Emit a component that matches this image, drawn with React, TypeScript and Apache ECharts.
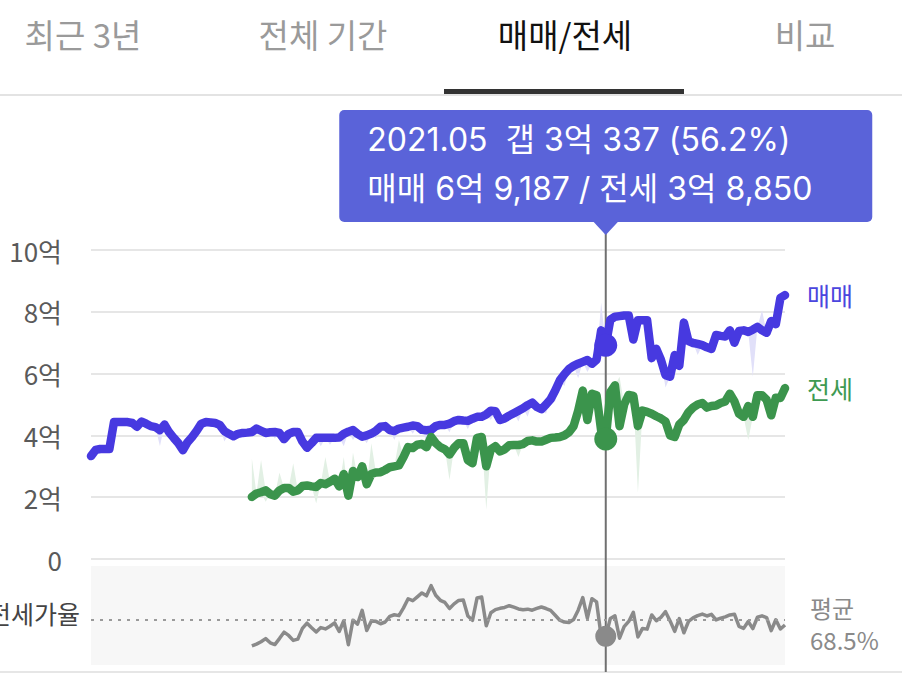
import React, { useEffect, useRef } from "react";
import * as echarts from "echarts";

// ---- categories: monthly, 2012.01 .. 2024.08 ----
const START_YEAR = 2012;
const MONTH_COUNT = 152;
const months: string[] = Array.from({ length: MONTH_COUNT }, (_, i) => {
  return `${START_YEAR + Math.floor(i / 12)}.${String((i % 12) + 1).padStart(2, "0")}`;
});
const FOCUS = "2021.05";

// ---- 매매 (sale) price, 만원 ----
const sale = [
  33300, 35300, 35600, 35600, 35600, 44300, 44300, 44300, 44300, 44000,
  42800, 44500, 43800, 43000, 42700, 41700, 43500, 41000, 39200, 37500,
  35200, 37800, 39500, 41500, 43800, 44300, 44200, 44000, 43400, 41400,
  40500, 39700, 40500, 40800, 40900, 41100, 42200, 41500, 40800, 41000,
  41100, 40800, 38800, 40500, 41100, 41100, 38000, 36000, 37500, 39200,
  39200, 39200, 39200, 39200, 39300, 40500, 41200, 41700, 40500, 39600,
  40000, 40600, 41500, 42800, 43000, 41700, 41400, 42200, 42500, 42800,
  43200, 43000, 41800, 41700, 41800, 43000, 43400, 43400, 43800, 44600,
  45000, 44800, 44700, 45400, 46000, 46000, 46800, 48000, 47800, 45000,
  45500, 46400, 47200, 48000, 48800, 49800, 50600, 49200, 48500, 50000,
  51700, 54500, 57800, 59800, 61500, 62500, 63200, 63800, 64400, 63200,
  64500, 74000, 69187, 77500, 78400, 78600, 78800, 78800, 71000, 77300,
  77300, 77300, 65000, 68000, 64500, 59500, 59000, 66000, 62500, 76500,
  70500, 69900, 69600, 69200, 68500, 68000, 72500, 72200, 72000, 74000,
  70000, 73800, 74000, 73500, 74200, 75100, 74000, 73200, 77000, 76000,
  84500, 85400,
];

// ---- 전세 (jeonse) price, 만원, starts at 2014.12 ----
const JEONSE_START = "2014.12";
const jeonseValues = [
  20100, 21200, 21600, 22200, 21000, 20500, 22200, 23000, 23000, 21800,
  22200, 23600, 23800, 23500, 23300, 24600, 24200, 25000, 26000, 23500,
  27500, 20500, 28500, 26500, 30000, 24200, 27500, 28000, 28100, 28800,
  29700, 30000, 30300, 33000, 36200, 35900, 37000, 37200, 36200, 39500,
  37500, 36200, 35500, 33800, 36000, 37500, 37500, 32000, 31000, 39200,
  39500, 30000, 35500, 36500, 34800, 35500, 36800, 36900, 36900, 37200,
  38200, 38400, 38000, 38000, 38600, 39200, 39300, 39500, 40000, 41000,
  43000, 48000, 54500, 45000, 53500, 53000, 41500, 38850, 54000, 56200,
  43000, 50000, 53100, 52800, 43000, 48000, 47600, 47000, 46200, 45500,
  44500, 40000, 39500, 43500, 45000, 47500, 49000, 50000, 50500, 49000,
  49500, 49700, 50500, 51000, 53500, 51000, 47000, 46000, 49500, 46000,
  53000, 53000, 51500, 46500, 52200, 52100, 55300,
];

// ---- individual raw trades that stray from the line: [month index, 만원] ----
const saleOutliers: [number, number][] = [
  [15, 36500], [20, 34000], [29, 38000], [40, 39000], [42, 37000], [47, 34500],
  [50, 36500], [52, 37000], [55, 36500], [57, 38500], [60, 37500], [62, 39000],
  [66, 38500], [70, 40500], [73, 38000], [78, 41000], [82, 42000], [87, 45000],
  [93, 44500], [95, 46000], [99, 47000], [101, 51000], [103, 56000], [106, 58500],
  [108, 60500], [111, 83000], [125, 55500], [132, 66000], [136, 68500], [144, 59000],
  [146, 80500],
];
const jeonseOutliers: [number, number][] = [
  [35, 32500], [37, 32000], [38, 18500], [41, 28000], [44, 31000], [49, 18000],
  [51, 33000], [55, 33000], [57, 34500], [61, 37500], [67, 38500], [78, 25600],
  [86, 15900], [93, 33000], [115, 59000], [119, 21400], [143, 38500],
];

const AVG_RATIO = 68.5;
const Y_TICKS = [0, 20000, 40000, 60000, 80000, 100000];

const FONT = "'Noto Sans CJK KR', 'Noto Sans', sans-serif";
const NUM_FONT = "Inter, 'Noto Sans CJK KR', sans-serif";
const BLUE = "#4739e0";
const GREEN = "#3b944c";
const GRAY = "#8a8a8a";

function commas(n: number): string {
  return String(n).replace(/\B(?=(\d{3})+(?!\d))/g, ",");
}
function fmtKr(v: number): string {
  const eok = Math.floor(v / 10000);
  const rest = v % 10000;
  return rest ? `${eok}억 ${commas(rest)}` : `${eok}억`;
}

export default function App() {
  const ref = useRef<HTMLDivElement>(null);

  useEffect(() => {
    if (!ref.current) return;
    const chart = echarts.init(ref.current, undefined, { renderer: "svg" });

    const js = months.indexOf(JEONSE_START);
    const jeonse: (number | null)[] = months.map((_, i) =>
      i >= js && i - js < jeonseValues.length ? jeonseValues[i - js] : null
    );
    const ratio = months.map((_, i) =>
      jeonse[i] == null ? null : +(((jeonse[i] as number) / sale[i]) * 100).toFixed(2)
    );
    const fi = months.indexOf(FOCUS);

    const band = (line: (number | null)[], outs: [number, number][]) => {
      const raw = line.slice();
      outs.forEach(([i, v]) => (raw[i] = v));
      const low = line.map((v, i) => (v == null ? "-" : Math.min(v, raw[i] as number)));
      const diff = line.map((v, i) => (v == null ? "-" : Math.abs((raw[i] as number) - v)));
      return { low, diff };
    };
    const sb = band(sale, saleOutliers);
    const jb = band(jeonse, jeonseOutliers);

    const bandSeries = (name: string, b: any, color: string) => [
      {
        type: "line", name: name + "low", stack: name, data: b.low, symbol: "none",
        lineStyle: { width: 0, opacity: 0 }, silent: true, z: 1,
      },
      {
        type: "line", name: name + "diff", stack: name, data: b.diff, symbol: "none",
        lineStyle: { width: 0, opacity: 0 }, areaStyle: { color, opacity: 1 }, silent: true, z: 1,
      },
    ];

    const only = (arr: (number | null)[]) => arr.map((v, i) => (i === fi ? v : "-"));

    chart.setOption({
      animation: false,
      backgroundColor: "#ffffff",
      grid: [
        { left: 91, width: 694, top: 250, height: 309 },
        { left: 91, width: 694, top: 566, height: 99, show: true, backgroundColor: "#f7f7f7", borderWidth: 0 },
      ],
      xAxis: [
        { type: "category", data: months, boundaryGap: false, gridIndex: 0, show: false },
        { type: "category", data: months, boundaryGap: false, gridIndex: 1, show: false },
      ],
      yAxis: [
        {
          type: "value", gridIndex: 0, min: Y_TICKS[0], max: Y_TICKS[Y_TICKS.length - 1],
          interval: Y_TICKS[1] - Y_TICKS[0],
          axisLine: { show: false }, axisTick: { show: false },
          axisLabel: {
            formatter: (v: number) => (v === 0 ? "0" : `${v / 10000}억`),
            color: "#5a5a5a", fontSize: 26, margin: 29, fontFamily: FONT,
          },
          splitLine: { lineStyle: { color: "#e6e6e6", width: 2 } },
        },
        { type: "value", gridIndex: 1, min: 34.4, max: 109.4, show: false },
      ],
      series: [
        ...bandSeries("sb", sb, "#e1e0f9"),
        ...bandSeries("jb", jb, "#e2f0e4"),
        {
          type: "line", name: "매매", data: sale, symbol: "none", z: 3,
          lineStyle: { color: BLUE, width: 8.5, cap: "round", join: "round" },
          endLabel: { show: true, formatter: "매매", color: "#4b46de", fontSize: 25, distance: 22, fontFamily: FONT },
        },
        {
          type: "line", name: "전세", data: jeonse, symbol: "none", z: 4,
          lineStyle: { color: GREEN, width: 8.5, cap: "round", join: "round" },
          endLabel: { show: true, formatter: "전세", color: "#3e9a52", fontSize: 25, distance: 22, fontFamily: FONT },
        },
        {
          type: "scatter", data: only(sale), symbolSize: 23, itemStyle: { color: BLUE, opacity: 1 }, z: 5,
        },
        {
          type: "scatter", data: only(jeonse), symbolSize: 23, itemStyle: { color: GREEN, opacity: 1 }, z: 5,
        },
        {
          type: "line", name: "전세가율", data: ratio, xAxisIndex: 1, yAxisIndex: 1, symbol: "none", z: 3,
          lineStyle: { color: GRAY, width: 3.5, join: "round" },
          markLine: {
            silent: true, symbol: "none",
            data: [{ yAxis: AVG_RATIO }],
            lineStyle: { type: [3, 6], color: "#9a9a9a", width: 2 },
            label: { show: false },
          },
        },
        {
          type: "scatter", data: only(ratio), xAxisIndex: 1, yAxisIndex: 1, symbolSize: 21,
          itemStyle: { color: GRAY, opacity: 1 }, z: 5,
        },
      ],
    });

    const px = chart.convertToPixel({ xAxisIndex: 0 }, months[fi]) as number;
    const avgY = chart.convertToPixel({ yAxisIndex: 1 }, AVG_RATIO) as number;
    const s = sale[fi];
    const j = jeonse[fi] as number;
    const line1 = `${FOCUS}  갭 ${fmtKr(s - j)} (${((j / s) * 100).toFixed(1)}%)`;
    const line2 = `매매 ${fmtKr(s)} / 전세 ${fmtKr(j)}`;
    const TIP = "#5a63d9";
    const boxW = 533;

    const tab = (text: string, x: number, active: boolean) => ({
      type: "text", x, y: 34,
      style: {
        text, fill: active ? "#111" : "#9a9a9a", fontSize: 33, fontFamily: FONT,
        align: "center", verticalAlign: "middle",
      },
    });

    chart.setOption({
      graphic: [
        tab("최근 3년", 83, false),
        tab("전체 기간", 323, false),
        tab("매매/전세", 565, true),
        tab("비교", 805, false),
        { type: "rect", shape: { x: 0, y: 94, width: 902, height: 2 }, style: { fill: "#e3e3e3" } },
        { type: "rect", shape: { x: 444, y: 89, width: 240, height: 5 }, style: { fill: "#333" } },
        { type: "rect", shape: { x: 0, y: 671, width: 902, height: 2 }, style: { fill: "#e6e6e6" } },
        {
          type: "line", z: 1, shape: { x1: px, y1: 222, x2: px, y2: 672 },
          style: { stroke: "#707070", lineWidth: 2 },
        },
        {
          type: "rect", z: 10, shape: { x: px - boxW / 2, y: 110, width: boxW, height: 112, r: 5 },
          style: { fill: TIP },
        },
        {
          type: "polygon", z: 10, shape: { points: [[px - 13, 221], [px + 13, 221], [px, 235]] },
          style: { fill: TIP },
        },
        {
          type: "text", z: 11, x: px - boxW / 2 + 28, y: 139,
          style: { text: line1, fill: "#fff", fontSize: 32, fontFamily: NUM_FONT, verticalAlign: "middle" },
        },
        {
          type: "text", z: 11, x: px - boxW / 2 + 28, y: 188,
          style: { text: line2, fill: "#fff", fontSize: 32, fontFamily: NUM_FONT, verticalAlign: "middle" },
        },
        {
          type: "text", x: 80, y: avgY - 7,
          style: { text: "전세가율", fill: "#444", fontSize: 25, fontFamily: FONT, align: "right", verticalAlign: "middle" },
        },
        {
          type: "text", x: 810, y: avgY - 12,
          style: { text: "평균", fill: "#8a8a8a", fontSize: 24, fontFamily: FONT, verticalAlign: "middle" },
        },
        {
          type: "text", x: 810, y: avgY + 20,
          style: { text: `${AVG_RATIO}%`, fill: "#8a8a8a", fontSize: 24, fontFamily: FONT, verticalAlign: "middle" },
        },
      ],
    });

    return () => chart.dispose();
  }, []);

  return (
    <div
      ref={ref}
      style={{ position: "absolute", left: 0, top: 0, width: 902, height: 681 }}
    />
  );
}
